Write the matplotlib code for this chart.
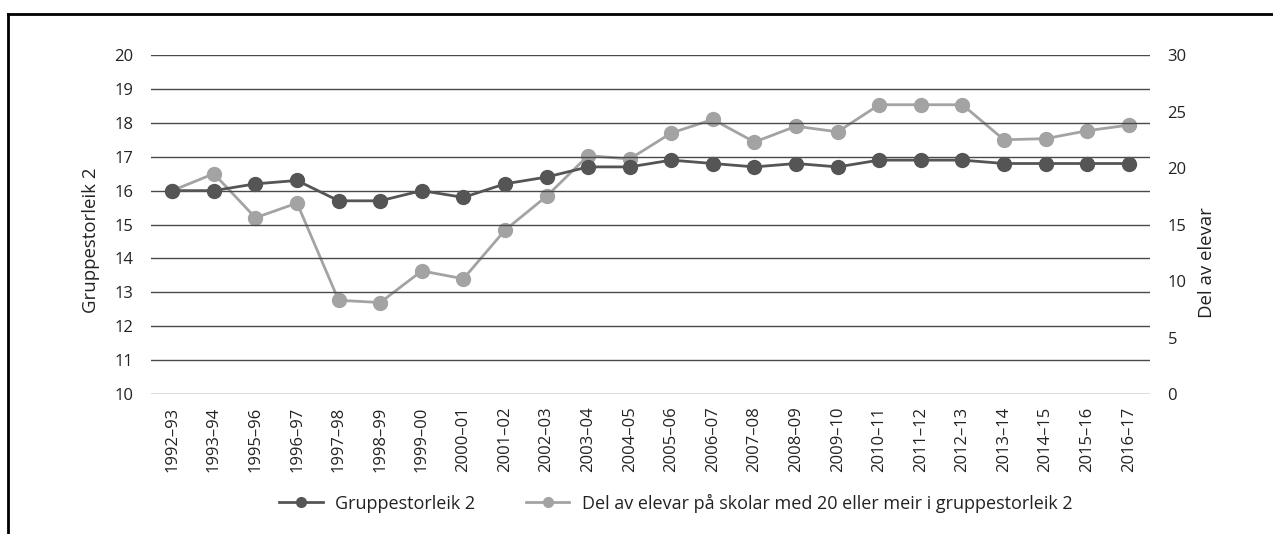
import matplotlib.pyplot as plt
from matplotlib.lines import Line2D

plt.rcParams['font.family'] = ['Open Sans', 'DejaVu Sans']

years = ["1992–93", "1993–94", "1995–96", "1996–97", "1997–98", "1998–99",
         "1999–00", "2000–01", "2001–02", "2002–03", "2003–04", "2004–05",
         "2005–06", "2006–07", "2007–08", "2008–09", "2009–10", "2010–11",
         "2011–12", "2012–13", "2013–14", "2014–15", "2015–16", "2016–17"]

# Gruppestorleik 2 (left axis)
group_size = [16.0, 16.0, 16.2, 16.3, 15.7, 15.7, 16.0, 15.8, 16.2, 16.4,
              16.7, 16.7, 16.9, 16.8, 16.7, 16.8, 16.7, 16.9, 16.9, 16.9,
              16.8, 16.8, 16.8, 16.8]

# Del av elevar pa skolar med 20 eller meir (right axis, %)
share_20plus = [18.0, 19.5, 15.6, 16.9, 8.3, 8.1, 10.9, 10.2, 14.5, 17.5,
                21.1, 20.8, 23.1, 24.3, 22.3, 23.7, 23.2, 25.6, 25.6, 25.6,
                22.5, 22.6, 23.3, 23.8]

dark = "#555555"
light = "#a3a3a3"

fig = plt.figure(figsize=(12.73, 5.34), dpi=100)
ax = fig.add_axes([0.119, 0.262, 0.784, 0.635])
ax2 = ax.twinx()

x = list(range(len(years)))

ax.set_ylim(10, 20)
ax.set_yticks(range(10, 21))
ax.set_xlim(-0.5, len(years) - 0.5)
ax.set_xticks(x)
ax.set_xticklabels(years, rotation=90)
ax.grid(axis="y", color="#4a4a4a", linewidth=1.0)
ax.set_axisbelow(True)
ax.tick_params(axis="y", length=0, labelsize=12, pad=13, labelcolor="#222222")
ax.tick_params(axis="x", length=0, labelsize=12, pad=9, labelcolor="#222222")
ax.set_ylabel("Gruppestorleik 2", fontsize=13.4, labelpad=10, color="#222222")
ax.yaxis.label.set_y(0.454)

ax2.set_ylim(0, 30)
ax2.set_yticks(range(0, 31, 5))
ax2.tick_params(length=0, labelsize=12, pad=13, labelcolor="#222222")
ax2.set_ylabel("Del av elevar", fontsize=13.4, labelpad=8, color="#222222")
ax2.yaxis.label.set_y(0.389)

for a in (ax, ax2):
    for s in a.spines.values():
        s.set_visible(False)

l1, = ax.plot(x, group_size, color=dark, linewidth=2, marker="o",
              markersize=10, zorder=4, label="Gruppestorleik 2")
l2, = ax2.plot(x, share_20plus, color=light, linewidth=2, marker="o",
               markersize=10, zorder=3,
               label="Del av elevar på skolar med 20 eller meir i gruppestorleik 2")

ax.set_zorder(ax2.get_zorder() + 1)
ax.patch.set_visible(False)

h1 = Line2D([], [], color=dark, linewidth=2, marker="o", markersize=7)
h2 = Line2D([], [], color=light, linewidth=2, marker="o", markersize=7)
leg = fig.legend([h1, h2], [l1.get_label(), l2.get_label()], ncol=2, frameon=False,
                 loc="center", bbox_to_anchor=(0.531, 0.058), fontsize=13,
                 handlelength=2.4, columnspacing=2.8, handletextpad=0.7)
for t in leg.get_texts():
    t.set_color("#222222")

# frame lines (top and left)
fig.add_artist(Line2D([8 / 1273, 1.0], [1 - 14 / 534, 1 - 14 / 534],
                      color="black", linewidth=2, transform=fig.transFigure))
fig.add_artist(Line2D([8 / 1273, 8 / 1273], [0, 1 - 14 / 534],
                      color="black", linewidth=2, transform=fig.transFigure))

fig.savefig("out.png", dpi=100)
